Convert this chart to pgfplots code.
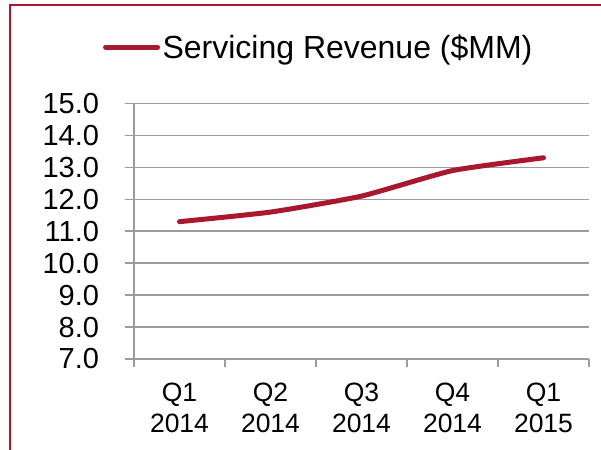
\documentclass[border=0pt]{standalone}
\usepackage{pgfplots}
\pgfplotsset{compat=1.18}
\usepackage{fontspec}
\setmainfont{Liberation Sans}
\definecolor{brand}{HTML}{A8182F}
\definecolor{gridc}{HTML}{9C9C9C}
\begin{document}
\begin{tikzpicture}
\path[use as bounding box] (0,0) rectangle (601bp,450bp);
\draw[brand, line width=2bp] (9.5bp,0) -- (9.5bp,445bp) -- (601bp,445bp);
\begin{axis}[
  at={(134bp,91bp)}, anchor=south west,
  scale only axis, width=455bp, height=255.5bp,
  xmin=-0.5, xmax=4.5, ymin=7, ymax=15,
  ytick={7,8,...,15},
  xtick={0,1,2,3,4},
  xticklabels={Q1\\2014,Q2\\2014,Q3\\2014,Q4\\2014,Q1\\2015},
  minor xtick={-0.5,0.5,1.5,2.5,3.5,4.5},
  major x tick style={draw=none},
  minor x tick style={gridc, line width=1.5bp},
  axis x line*=bottom, axis y line*=left,
  axis line style={gridc, line width=1.5bp, -},
  tick align=outside,
  major tick length=9.5bp, minor tick length=7.5bp,
  y tick style={gridc, line width=1.5bp},
  ymajorgrids, grid style={gridc, line width=1.5bp},
  /pgf/number format/assume math mode=true,
  yticklabel={\pgfmathprintnumber[fixed, fixed zerofill, precision=1]{\tick}},
  xticklabel style={align=center, yshift=-11bp, font=\fontsize{26.5bp}{30.5bp}\selectfont},
  yticklabel style={xshift=-22bp, font=\fontsize{29bp}{32bp}\selectfont},
  legend style={draw=none, fill=none, at={(-0.068,1.221)}, anchor=west,
    inner sep=0pt, outer sep=0pt, font=\fontsize{32bp}{36bp}\selectfont,
    nodes={inner sep=2.5bp}},
  legend image code/.code={\draw[#1] (0bp,0bp) -- (52bp,0bp);},
  clip=false,
]
\addplot[brand, line width=5bp, line cap=round, smooth, tension=0.3]
  coordinates {(0,11.3) (1,11.6) (2,12.1) (3,12.9) (4,13.3)};
\addlegendentry{Servicing Revenue (\$MM)}
\end{axis}
\end{tikzpicture}
\end{document}
